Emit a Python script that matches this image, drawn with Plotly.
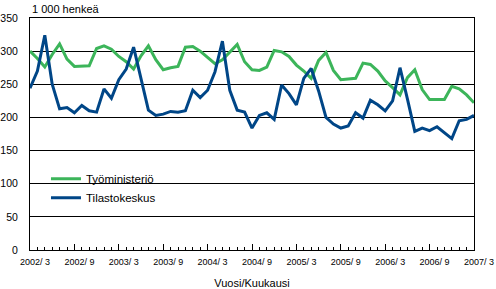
import plotly.graph_objects as go

months = list(range(61))
tick_vals = [0, 6, 12, 18, 24, 30, 36, 42, 48, 54, 60]
tick_labels = ["2002/ 3", "2002/ 9", "2003/ 3", "2003/ 9", "2004/ 3", "2004/ 9",
               "2005/ 3", "2005/ 9", "2006/ 3", "2006/ 9", "2007/ 3"]

tyoministerio = [300, 289, 276, 295, 311, 288, 277, 277, 278, 304,
                 308, 303, 292, 284, 273, 293, 308, 287, 272, 275,
                 277, 306, 307, 300, 290, 281, 287, 298, 310, 284,
                 272, 271, 276, 301, 299, 292, 279, 270, 259, 286,
                 298, 271, 257, 258, 259, 282, 280, 270, 255, 245,
                 234, 260, 272, 242, 227, 227, 227, 247, 243, 234,
                 222]

tilastokeskus = [244, 270, 324, 250, 213, 215, 207, 218, 210, 208,
                 243, 229, 257, 273, 306, 258, 211, 203, 205, 209,
                 208, 210, 241, 230, 241, 269, 315, 241, 211, 208,
                 184, 203, 207, 197, 249, 236, 219, 259, 274, 240,
                 200, 190, 184, 187, 207, 199, 226, 219, 210, 225,
                 275, 228, 179, 184, 180, 186, 177, 168, 195, 197,
                 203]

FONT = "Liberation Sans, Arial, sans-serif"
GREEN = "#3CB55A"
BLUE = "#004687"

fig = go.Figure()
fig.add_trace(go.Scatter(x=months, y=tyoministerio, mode="lines", name="Työministeriö",
                         line=dict(color=GREEN, width=3)))
fig.add_trace(go.Scatter(x=months, y=tilastokeskus, mode="lines", name="Tilastokeskus",
                         line=dict(color=BLUE, width=3)))

fig.update_layout(
    width=496, height=289,
    margin=dict(l=30, r=22, t=18, b=39),
    paper_bgcolor="white", plot_bgcolor="white",
    font=dict(family=FONT, size=11, color="black"),
    showlegend=True,
    legend=dict(x=0.036, y=0.37, xanchor="left", yanchor="top",
                bgcolor="rgba(0,0,0,0)", font=dict(size=11.5),
                tracegroupgap=0, itemwidth=30),
    xaxis=dict(range=[0, 60], tickvals=tick_vals, ticktext=tick_labels,
               automargin=False,
               ticks="inside", ticklen=6, tickcolor="black", tickwidth=1,
               minor=dict(ticks="inside", ticklen=3, dtick=1, tick0=0, tickcolor="black", tickwidth=1),
               showgrid=False, zeroline=False,
               showline=True, linecolor="black", linewidth=1, mirror=True,
               tickfont=dict(size=9), ticklabelshift=5, ticklabelstandoff=3,
               title=dict(text="Vuosi/Kuukausi", font=dict(size=11), standoff=15)),
    yaxis=dict(range=[0, 350], dtick=50, tick0=0, automargin=False,
               showgrid=True, gridcolor="black", gridwidth=1,
               zeroline=False, ticks="",
               showline=True, linecolor="black", linewidth=1, mirror=True,
               tickfont=dict(size=10.5), ticklabelstandoff=9),
    annotations=[dict(text="1 000 henkeä", xref="paper", yref="paper",
                      x=0, y=1, xanchor="left", yanchor="bottom", yshift=1,
                      showarrow=False, font=dict(size=11))],
)

fig.write_html("out.html")
